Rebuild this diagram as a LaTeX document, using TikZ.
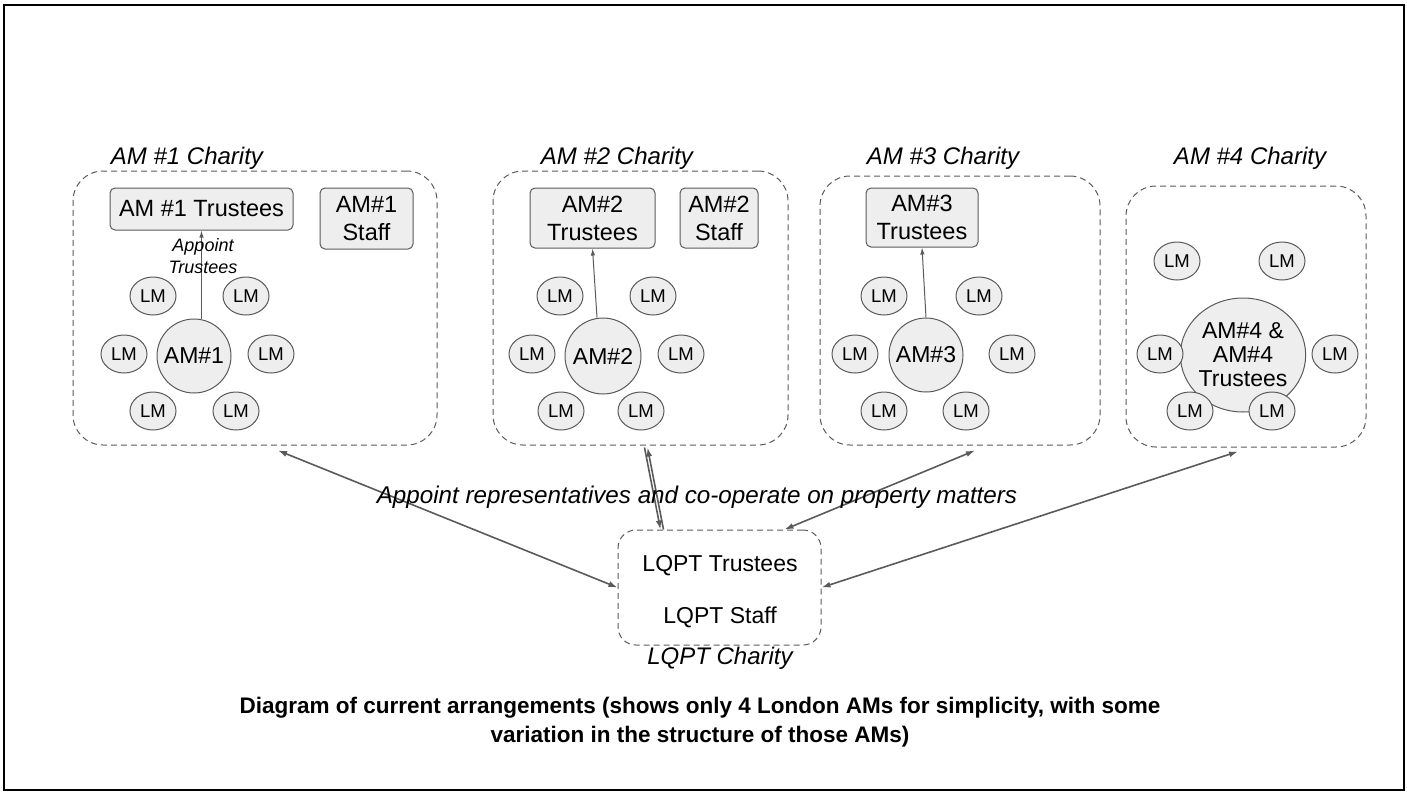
\documentclass[tikz,border=0pt]{standalone}
\usepackage{fontspec}
\setmainfont{Liberation Sans}
\usetikzlibrary{arrows.meta,shapes.geometric}
\definecolor{edge}{HTML}{5A5A5A}
\definecolor{boxfill}{HTML}{EEEEEE}
\begin{document}
\begin{tikzpicture}[x=1pt,y=-1pt,
  container/.style={draw=edge, dash pattern=on 6pt off 4pt, line width=1pt, rounded corners=30pt, inner sep=0pt},
  tbox/.style={draw=edge, fill=boxfill, line width=1pt, rounded corners=5pt, inner sep=0pt, align=center, font=\fontsize{23.5}{28}\selectfont},
  lm/.style={ellipse, draw=edge, fill=boxfill, line width=1pt, minimum width=46pt, minimum height=38pt, inner sep=0pt, font=\fontsize{18.5}{20}\selectfont},
  amc/.style={circle, draw=edge, fill=boxfill, line width=1pt, minimum size=75pt, inner sep=0pt, font=\fontsize{23}{26}\selectfont},
  title/.style={inner sep=0pt, font=\fontsize{24}{27}\selectfont\itshape},
  plain/.style={inner sep=0pt, font=\fontsize{23}{27}\selectfont},
  link/.style={draw=edge, line width=1.6pt},
  tipA/.style={-{Latex[length=9pt,width=6pt]}},
  tipB/.style={{Latex[length=9pt,width=6pt]}-},
  tipAB/.style={{Latex[length=9pt,width=6pt]}-{Latex[length=9pt,width=6pt]}},
  up/.style={draw=edge, line width=1pt, -{Latex[length=7pt,width=4.5pt]}},
]
\useasboundingbox (0,0) rectangle (1407,792);
\draw[line width=2.5pt] (4,5) rectangle (1404,790);

% containers
\node[container, minimum width=364pt, minimum height=274pt] (am1c) at (255,308) {};
\node[container, minimum width=295pt, minimum height=274pt] (am2c) at (640.5,308) {};
\node[container, minimum width=280pt, minimum height=269pt] (am3c) at (960,310.5) {};
\node[container, minimum width=240pt, minimum height=261pt] (am4c) at (1246,316.5) {};

% titles
\node[title] (ti1) at (187,158) {AM \#1 Charity};
\node[title] (ti2) at (617,158) {AM \#2 Charity};
\node[title] (ti3) at (943,158) {AM \#3 Charity};
\node[title] (ti4) at (1250,158) {AM \#4 Charity};

% trustee / staff boxes
\node[tbox, minimum width=183pt, minimum height=42pt] (t1) at (201.5,209) {AM \#1 Trustees};
\node[tbox, minimum width=93pt, minimum height=61pt] (s1) at (366.5,218.5) {AM\#1\\Staff};
\node[tbox, minimum width=125pt, minimum height=60pt] (t2) at (592.5,218) {AM\#2\\Trustees};
\node[tbox, minimum width=78pt, minimum height=60pt] (s2) at (719,218) {AM\#2\\Staff};
\node[tbox, minimum width=112pt, minimum height=59pt] (t3) at (922,217.5) {AM\#3\\Trustees};

% AM #1
\node[amc, minimum size=74pt] (a1) at (194,356) {AM\#1};
\node[lm] (l11) at (153,296) {LM};
\node[lm] (l12) at (246,296) {LM};
\node[lm] (l13) at (124,354) {LM};
\node[lm] (l14) at (271,354) {LM};
\node[lm] (l15) at (153,411) {LM};
\node[lm] (l16) at (236,411) {LM};
\draw[up] (a1.north -| t1.south) -- (t1.south);
\node[inner sep=0pt, align=center, font=\fontsize{18}{22}\selectfont\itshape] (apt) at (203,256) {Appoint\\Trustees};

% AM #2
\node[amc, minimum size=76pt] (a2) at (603,356) {AM\#2};
\node[lm] (l21) at (560,296) {LM};
\node[lm] (l22) at (653,296) {LM};
\node[lm] (l23) at (532,354) {LM};
\node[lm] (l24) at (681,354) {LM};
\node[lm] (l25) at (561,411) {LM};
\node[lm] (l26) at (641,411) {LM};
\draw[up] ([xshift=-6pt]a2.north) -- (t2.south);

% AM #3
\node[amc, minimum size=74pt] (a3) at (926,355) {AM\#3};
\node[lm] (l31) at (884,296) {LM};
\node[lm] (l32) at (979,296) {LM};
\node[lm] (l33) at (855,354) {LM};
\node[lm] (l34) at (1012,354) {LM};
\node[lm] (l35) at (884,411) {LM};
\node[lm] (l36) at (966,411) {LM};
\draw[up] (a3.north) -- (t3.south);

% AM #4
\node[ellipse, draw=edge, fill=boxfill, line width=1pt, minimum width=102pt, minimum height=114pt, inner sep=0pt, align=center, font=\fontsize{23}{24}\selectfont] (a4) at (1243,355) {AM\#4 \&\\AM\#4\\Trustees};
\node[lm] (l41) at (1177,261) {LM};
\node[lm] (l42) at (1282,261) {LM};
\node[lm] (l43) at (1160,354) {LM};
\node[lm] (l44) at (1335,354) {LM};
\node[lm] (l45) at (1190,411) {LM};
\node[lm] (l46) at (1272,411) {LM};

% LQPT
\node[container, rounded corners=18pt, minimum width=203pt, minimum height=115pt] (lqpt) at (719.5,587.5) {};
\node[plain] (lqt) at (720,566) {LQPT Trustees};
\node[plain] (lqs) at (720,617) {LQPT Staff};
\node[title] (lqc) at (720,658) {LQPT Charity};

% links
\draw[link, tipAB] ([xshift=23pt,yshift=-5pt]am1c.south) -- (lqpt.west);
\draw[link, tipA] ([xshift=4pt,yshift=-2pt]am2c.south) -- ([xshift=-59pt]lqpt.north);
\draw[link, tipB] ([xshift=7pt,yshift=-2pt]am2c.south) -- ([xshift=-56pt]lqpt.north);
\draw[link, tipAB] ([xshift=15pt,yshift=-5pt]am3c.south) -- ([xshift=65pt]lqpt.north);
\draw[link, tipAB] ([xshift=-8pt,yshift=-4pt]am4c.south) -- (lqpt.east);

\node[inner sep=0pt, font=\fontsize{24.2}{27}\selectfont\itshape] (rep) at (697,497) {Appoint representatives and co-operate on property matters};

% caption
\node[inner sep=0pt, align=center, font=\fontsize{22.5}{29}\selectfont\bfseries] (cap) at (700,722) {Diagram of current arrangements (shows only 4 London AMs for simplicity, with some\\variation in the structure of those AMs)};
\end{tikzpicture}
\end{document}
